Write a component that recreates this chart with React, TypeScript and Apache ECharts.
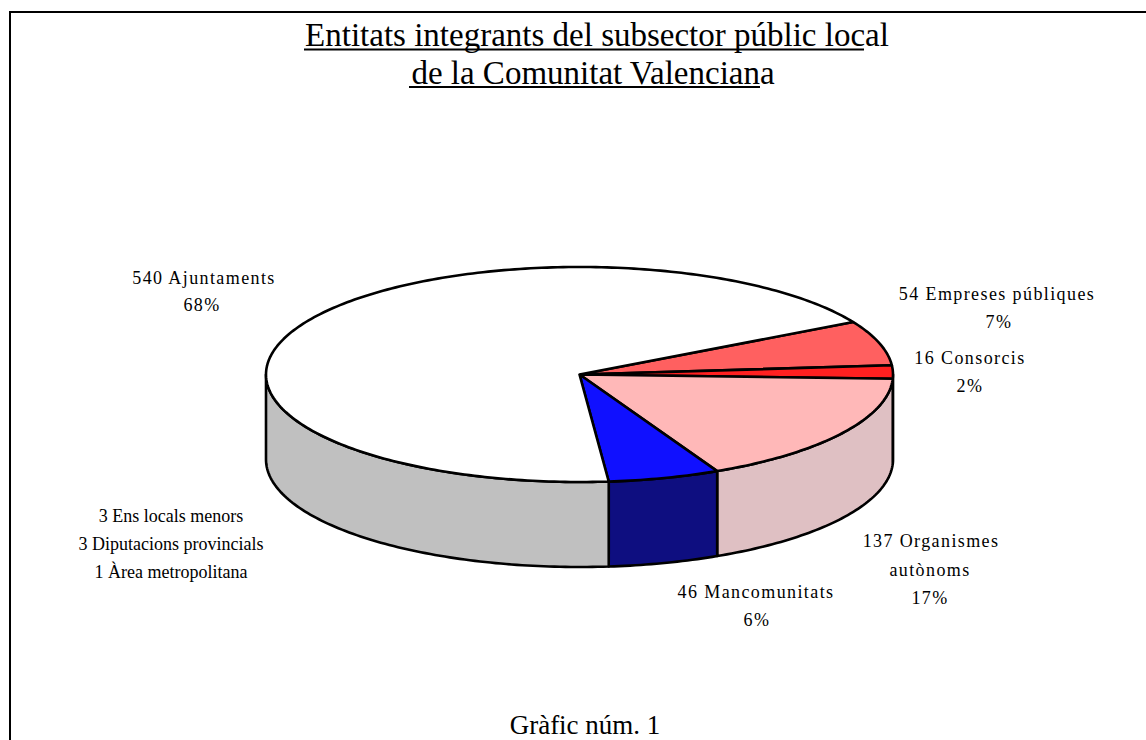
import React, { useEffect, useRef } from "react";
import * as echarts from "echarts";

const sliceNames = ["Empreses públiques", "Consorcis", "Organismes autònoms", "Mancomunitats", "Ajuntaments"];
// The last value gathers 540 Ajuntaments + 3 Ens locals + 3 Diputacions + 1 Àrea, which the reference draws as one white slice.
const sliceValues = [54, 16, 137, 46, 547];
const topColors = ["#ff6060", "#ff2020", "#ffb8b8", "#1010ff", "#ffffff"];
const sideColors = ["#b04040", "#b01818", "#dfc0c3", "#0e0e80", "#c0c0c0"];
const titleLines = ["Entitats integrants del subsector públic local", "de la Comunitat Valenciana"];
const footer = "Gràfic núm. 1";
const spacedLabels = [
  ["540 Ajuntaments", "68%"],
  ["54 Empreses públiques", "7%"],
  ["16 Consorcis", "2%"],
  ["137 Organismes", "autònoms", "17%"],
  ["46 Mancomunitats", "6%"],
];
const plainLabels = ["3 Ens locals menors", "3 Diputacions provincials", "1 Àrea metropolitana"];

const CX = 579.5, CY = 374.5, RX = 313.5, RY = 107.5, DEPTH = 85;
const START = -29.2;
const total = sliceValues.reduce((a, b) => a + b, 0);
const angleRange = (i: number) => {
  let sum = 0;
  for (let k = 0; k < i; k++) sum += sliceValues[k];
  return [START + (sum / total) * 360, START + ((sum + sliceValues[i]) / total) * 360];
};
const pt = (deg: number, dy = 0) => {
  const r = (deg * Math.PI) / 180;
  return [CX + RX * Math.cos(r), CY + RY * Math.sin(r) + dy];
};
const arcPts = (a: number, b: number, dy = 0) => {
  const out: number[][] = [];
  const n = Math.max(2, Math.ceil(Math.abs(b - a)));
  for (let i = 0; i <= n; i++) out.push(pt(a + ((b - a) * i) / n, dy));
  return out;
};
const strokeStyle = { stroke: "#000", lineWidth: 2.6, lineJoin: "round" };

const renderTop = (params: any) => {
  const [a, b] = angleRange(params.dataIndex);
  return {
    type: "polygon",
    shape: { points: [[CX, CY], ...arcPts(a, b)] },
    style: { fill: topColors[params.dataIndex], ...strokeStyle },
  };
};
const renderSide = (params: any) => {
  const [a0, b0] = angleRange(params.dataIndex);
  const a = Math.max(a0, 0), b = Math.min(b0, 180);
  if (b <= a) return { type: "group", children: [] };
  return {
    type: "polygon",
    shape: { points: [...arcPts(a, b), ...arcPts(b, a, DEPTH)] },
    style: { fill: sideColors[params.dataIndex], ...strokeStyle },
  };
};

const serif = "'Liberation Serif', 'Times New Roman', serif";
const txt = (text: string, x: number, y: number, size: number) => ({
  type: "text",
  x, y,
  style: { text, fill: "#000", font: `${size}px ${serif}`, textAlign: "center", textVerticalAlign: "middle" },
});
const line = (x1: number, y1: number, x2: number, y2: number, lineWidth = 2) => ({
  type: "line",
  shape: { x1, y1, x2, y2 },
  style: { stroke: "#000", lineWidth },
});

export default function App() {
  const ref = useRef<HTMLDivElement>(null);
  useEffect(() => {
    document.body.style.margin = "0";
    const chart = echarts.init(ref.current!, null, { renderer: "svg" });
    const lab = 18;
    chart.setOption({
      animation: false,
      backgroundColor: "#fff",
      graphic: [
        line(10, 12, 1146, 12),
        line(10, 11, 10, 740),
        txt(titleLines[0], 597, 35, 33),
        txt(titleLines[1], 593, 73, 33),
        line(304, 49.5, 864, 49.5),
        line(409, 87, 760, 87),
        txt(footer, 585, 725, 27),
        txt(spacedLabels[0][0], 204, 278, lab),
        txt(spacedLabels[0][1], 202, 305, lab),
        txt(spacedLabels[1][0], 997, 294, lab),
        txt(spacedLabels[1][1], 999, 322, lab),
        txt(spacedLabels[2][0], 970, 358, lab),
        txt(spacedLabels[2][1], 970, 386, lab),
        txt(spacedLabels[3][0], 931, 541, lab),
        txt(spacedLabels[3][1], 930, 570, lab),
        txt(spacedLabels[3][2], 930, 598, lab),
        txt(spacedLabels[4][0], 756, 592, lab),
        txt(spacedLabels[4][1], 757, 620, lab),
        txt(plainLabels[0], 171, 516, lab),
        txt(plainLabels[1], 171, 544, lab),
        txt(plainLabels[2], 171, 572, lab),
      ],
      series: [
        { type: "custom", coordinateSystem: "none", silent: true, data: sliceNames.map((name, i) => ({ name, value: sliceValues[i] })), renderItem: renderSide, z: 1 },
        { type: "custom", coordinateSystem: "none", silent: true, data: sliceNames.map((name, i) => ({ name, value: sliceValues[i] })), renderItem: renderTop, z: 2 },
      ],
    });
    const spaced = new Set(spacedLabels.flat());
    const applySpacing = () => {
      ref.current?.querySelectorAll("text").forEach((t) => {
        if (spaced.has(t.textContent || "")) t.setAttribute("letter-spacing", "1.4");
      });
    };
    applySpacing();
    chart.on("finished", applySpacing);
    return () => chart.dispose();
  }, []);
  return <div ref={ref} style={{ position: "absolute", left: 0, top: 0, width: 1146, height: 740 }} />;
}
